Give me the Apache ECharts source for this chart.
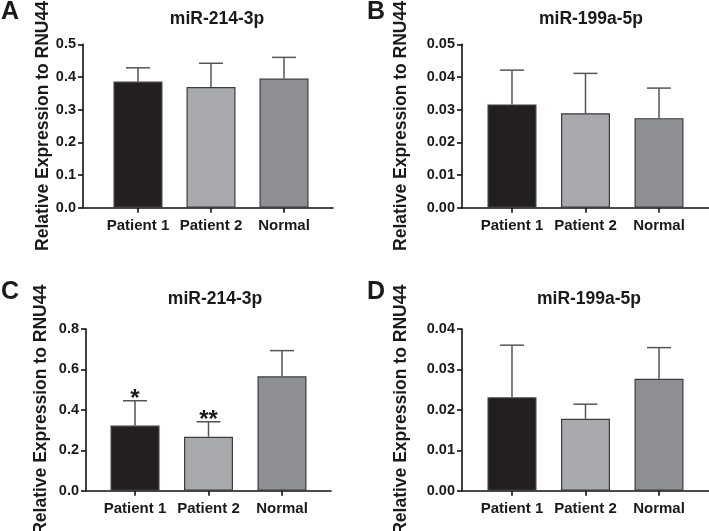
<!DOCTYPE html>
<html>
<head>
<meta charset="utf-8">
<script src="https://cdn.jsdelivr.net/npm/echarts@6/dist/echarts.min.js"></script>
<style>
html,body{margin:0;padding:0;background:#fff;}
#chart{width:709px;height:531px;}
</style>
</head>
<body>
<div id="chart"></div>
<script>
// ---- data ----
const categories = ['Patient 1', 'Patient 2', 'Normal'];
const barColors = ['#231f20', '#a8a9ad', '#8d8f92'];

const titleA = 'miR-214-3p';
const meanA = [0.386, 0.369, 0.395];
const errA = [0.042, 0.073, 0.065];
const sigA = ['', '', ''];
const ticksA = { min: 0, max: 0.5, interval: 0.1, decimals: 1 };

const titleB = 'miR-199a-5p';
const meanB = [0.0316, 0.0289, 0.0274];
const errB = [0.0105, 0.0122, 0.0092];
const sigB = ['', '', ''];
const ticksB = { min: 0, max: 0.05, interval: 0.01, decimals: 2 };

const titleC = 'miR-214-3p';
const meanC = [0.322, 0.267, 0.566];
const errC = [0.123, 0.074, 0.127];
const sigC = ['*', '**', ''];
const ticksC = { min: 0, max: 0.8, interval: 0.2, decimals: 1 };

const titleD = 'miR-199a-5p';
const meanD = [0.0231, 0.0178, 0.0277];
const errD = [0.0129, 0.0036, 0.0077];
const sigD = ['', '', ''];
const ticksD = { min: 0, max: 0.04, interval: 0.01, decimals: 2 };

const yName = 'Relative Expression to RNU44';
const letters = ['A', 'B', 'C', 'D'];

// ---- layout ----
const FONT = '"Liberation Sans", Arial, sans-serif';
const TXT = '#1a1a1a';
const panels = [
  { title: titleA, mean: meanA, err: errA, sig: sigA, ticks: ticksA,
    grid: { left: 83, top: 44.3, width: 250, height: 163.4 }, xmin: -0.753, xmax: 2.671,
    titleX: 212, titleY: 5, letterX: 1, letterY: 0, nameGap: 31 },
  { title: titleB, mean: meanB, err: errB, sig: sigB, ticks: ticksB,
    grid: { left: 462, top: 44.3, width: 247, height: 163.4 }, xmin: -0.68, xmax: 2.68,
    titleX: 586, titleY: 5, letterX: 367, letterY: 0, nameGap: 52 },
  { title: titleC, mean: meanC, err: errC, sig: sigC, ticks: ticksC,
    grid: { left: 86, top: 329, width: 245, height: 161.7 }, xmin: -0.667, xmax: 2.667,
    titleX: 210, titleY: 285, letterX: 1, letterY: 280, nameGap: 36 },
  { title: titleD, mean: meanD, err: errD, sig: sigD, ticks: ticksD,
    grid: { left: 462, top: 329, width: 247, height: 161.7 }, xmin: -0.68, xmax: 2.68,
    titleX: 584, titleY: 285, letterX: 367, letterY: 280, nameGap: 52 }
];

const grids = [], xAxes = [], yAxes = [], series = [], titles = [];
panels.forEach((p, i) => {
  grids.push(Object.assign({ containLabel: false, outerBoundsMode: 'none' }, p.grid));
  xAxes.push({
    type: 'value', gridIndex: i, min: p.xmin, max: p.xmax,
    axisLine: { show: true, onZero: false, lineStyle: { color: '#111', width: 1.6 } },
    axisTick: { show: true, customValues: [0, 1, 2], length: 5, lineStyle: { color: '#111', width: 1.6 } },
    axisLabel: { show: true, customValues: [0, 1, 2], margin: 11,
      formatter: v => categories[Math.round(v)] || '',
      color: TXT, fontFamily: FONT, fontWeight: 'bold', fontSize: 15 },
    splitLine: { show: false }
  });
  yAxes.push({
    type: 'value', gridIndex: i, min: p.ticks.min, max: p.ticks.max, interval: p.ticks.interval,
    name: yName, nameLocation: 'middle', nameRotate: 90, nameGap: p.nameGap,
    nameTextStyle: { color: TXT, fontFamily: FONT, fontWeight: 'bold', fontSize: 17.5 },
    axisLine: { show: true, onZero: false, lineStyle: { color: '#111', width: 1.6 } },
    axisTick: { show: true, length: 5, lineStyle: { color: '#111', width: 1.6 } },
    axisLabel: { margin: 7, color: TXT, fontFamily: FONT, fontWeight: 'bold', fontSize: 14.5,
      formatter: v => v.toFixed(p.ticks.decimals) },
    splitLine: { show: false }
  });
  series.push({
    type: 'bar', xAxisIndex: i, yAxisIndex: i, barWidth: 49,
    data: p.mean.map((v, k) => ({ value: [k, v],
      itemStyle: { color: barColors[k], borderColor: '#3c3c3c', borderWidth: 1.2 } })),
    z: 3, silent: true
  });
  series.push({
    type: 'custom', xAxisIndex: i, yAxisIndex: i, z: 2, silent: true,
    data: p.mean.map((v, k) => [k, v, p.err[k], k]),
    renderItem: (params, api) => {
      const x = api.value(0), m = api.value(1), e = api.value(2), k = api.value(3);
      const p0 = api.coord([x, m]);
      const p1 = api.coord([x, m + e]);
      const st = { stroke: '#555', lineWidth: 1.5 };
      const children = [
        { type: 'line', shape: { x1: p0[0], y1: p0[1], x2: p1[0], y2: p1[1] }, style: st },
        { type: 'line', shape: { x1: p1[0] - 12, y1: p1[1], x2: p1[0] + 12, y2: p1[1] }, style: st }
      ];
      const s = p.sig[k];
      if (s) {
        children.push({ type: 'text', x: p1[0], y: p1[1] + 11,
          style: { text: s, textAlign: 'center', textVerticalAlign: 'bottom',
            font: 'bold 24px ' + FONT, fill: TXT } });
      }
      return { type: 'group', children };
    }
  });
  titles.push({ text: p.title, left: p.titleX, top: p.titleY, textAlign: 'center',
    textStyle: { color: TXT, fontFamily: FONT, fontWeight: 'bold', fontSize: 17.5 } });
  titles.push({ text: letters[i], left: p.letterX, top: p.letterY, padding: 0,
    textStyle: { color: TXT, fontFamily: FONT, fontWeight: 'bold', fontSize: 25 } });
});

const chart = echarts.init(document.getElementById('chart'), null, { renderer: 'canvas' });
chart.setOption({
  backgroundColor: '#ffffff',
  animation: false,
  title: titles,
  grid: grids,
  xAxis: xAxes,
  yAxis: yAxes,
  series: series
});
</script>
</body>
</html>
